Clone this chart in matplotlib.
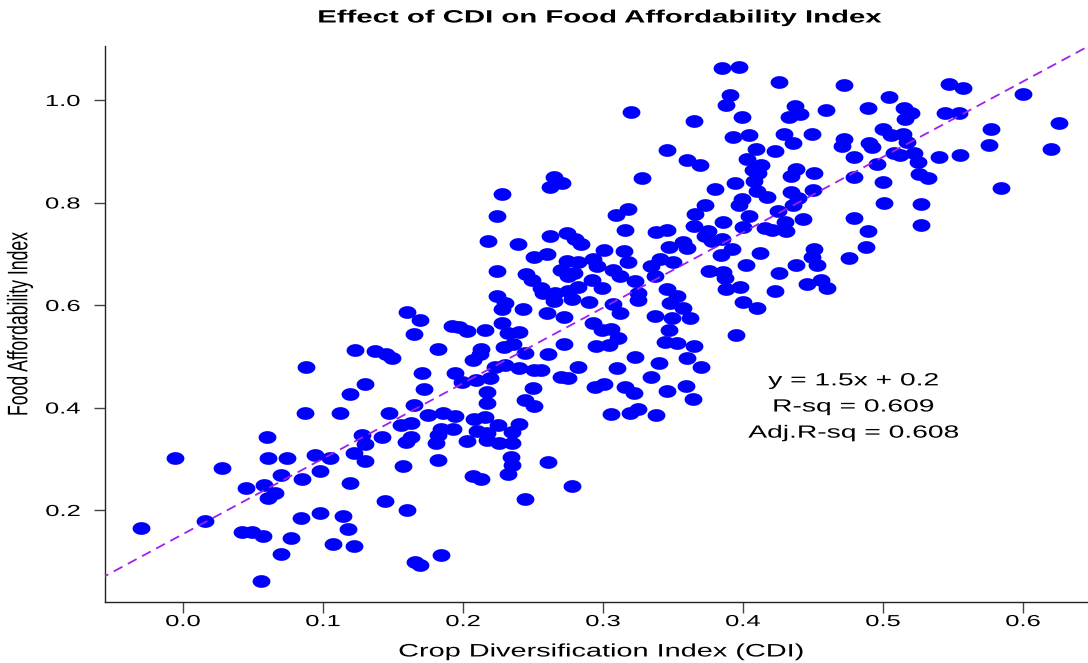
import numpy as np
import matplotlib

matplotlib.use("Agg")
import matplotlib.pyplot as plt
from matplotlib.path import Path
from matplotlib.patheffects import AbstractPathEffect
from matplotlib.ticker import FormatStrFormatter
from matplotlib.transforms import Affine2D

# Crop Diversification Index (x) and Food Affordability Index (y)
cdi = [
    0.265, 0.271, 0.262, 0.228, 0.224, 0.218, 0.239, 0.262, 0.274, 0.280, 0.284, 0.301,
    0.260, 0.251, 0.224, 0.245, 0.249, 0.274, 0.282, 0.270, 0.279, 0.275, 0.293, 0.296,
    0.292, 0.299, 0.256, 0.257, 0.266, 0.275, 0.282, 0.265, 0.278, 0.290, 0.224, 0.230,
    0.228, 0.243, 0.260, 0.272, 0.160, 0.169,
    0.385, 0.397, 0.426, 0.472, 0.391, 0.388, 0.320, 0.365, 0.399, 0.437, 0.441, 0.433,
    0.459, 0.393, 0.404, 0.429, 0.436, 0.449, 0.472, 0.471, 0.346, 0.409, 0.423, 0.360,
    0.369, 0.403, 0.413, 0.407, 0.411, 0.328, 0.394, 0.408, 0.438, 0.434, 0.451, 0.479,
    0.479, 0.380, 0.410, 0.417, 0.399, 0.397, 0.434, 0.439, 0.436, 0.450, 0.373, 0.366,
    0.404, 0.425, 0.386, 0.400, 0.430, 0.443, 0.479, 0.318, 0.309, 0.316, 0.338, 0.346,
    0.365, 0.375, 0.416, 0.421, 0.431, 0.373, 0.378, 0.385, 0.357, 0.360, 0.347, 0.392,
    0.384, 0.412, 0.451, 0.449, 0.476, 0.453, 0.438, 0.402, 0.426, 0.376, 0.386, 0.387,
    0.388, 0.398, 0.423, 0.446, 0.456, 0.460, 0.400, 0.410,
    0.315, 0.318, 0.307, 0.312, 0.323, 0.334, 0.337, 0.341, 0.350, 0.325, 0.325, 0.346,
    0.353, 0.348, 0.357, 0.307, 0.312, 0.337, 0.349, 0.362,
    0.306, 0.311, 0.304, 0.347, 0.344, 0.353, 0.365, 0.395, 0.323, 0.310, 0.340, 0.360,
    0.370, 0.334, 0.301, 0.316, 0.322, 0.346, 0.359, 0.364, 0.306, 0.319, 0.325, 0.338,
    0.547, 0.557, 0.504, 0.600, 0.489, 0.515, 0.520, 0.516, 0.544, 0.554, 0.626, 0.577,
    0.500, 0.506, 0.514, 0.517, 0.490, 0.492, 0.576, 0.620, 0.508, 0.512, 0.522, 0.525,
    0.540, 0.555, 0.496, 0.526, 0.532, 0.500, 0.584, 0.501, 0.527, 0.489, 0.527, 0.488,
    0.123, 0.088, 0.119, 0.087, 0.112, 0.060, -0.006, 0.061, 0.074, 0.094, 0.105, 0.122,
    0.028, 0.070, 0.098, 0.085, 0.045, 0.058, 0.066, 0.061, 0.119, 0.016, -0.030, 0.084,
    0.098, 0.114, 0.118, 0.042, 0.049, 0.057, 0.077, 0.070, 0.107, 0.122, 0.056,
    0.192, 0.197, 0.203, 0.165, 0.216, 0.228, 0.232, 0.240, 0.293, 0.299, 0.137, 0.145,
    0.149, 0.182, 0.213, 0.212, 0.207, 0.229, 0.236, 0.244, 0.261, 0.272, 0.295, 0.171,
    0.194, 0.199, 0.209, 0.219, 0.223, 0.230, 0.240, 0.251, 0.256, 0.282, 0.270, 0.275,
    0.294, 0.130, 0.172, 0.217, 0.217, 0.250, 0.244, 0.251, 0.165, 0.147, 0.175, 0.186,
    0.194, 0.156, 0.163, 0.184, 0.193, 0.208, 0.216, 0.225, 0.240, 0.128, 0.142, 0.159,
    0.163, 0.182, 0.181, 0.203, 0.210, 0.217, 0.217, 0.226, 0.235, 0.235, 0.130, 0.130,
    0.157, 0.182, 0.234, 0.235, 0.232, 0.207, 0.213, 0.261, 0.278, 0.244, 0.144, 0.160,
    0.166, 0.169, 0.184,
]
fai = [
    0.850, 0.839, 0.830, 0.816, 0.774, 0.725, 0.720, 0.735, 0.740, 0.729, 0.719, 0.707,
    0.700, 0.694, 0.666, 0.660, 0.649, 0.686, 0.684, 0.668, 0.663, 0.657, 0.689, 0.676,
    0.649, 0.634, 0.634, 0.624, 0.624, 0.627, 0.636, 0.608, 0.611, 0.605, 0.618, 0.604,
    0.592, 0.592, 0.585, 0.577, 0.587, 0.570,
    1.062, 1.065, 1.036, 1.029, 1.010, 0.990, 0.977, 0.959, 0.966, 0.988, 0.973, 0.967,
    0.980, 0.928, 0.931, 0.934, 0.917, 0.934, 0.923, 0.910, 0.902, 0.905, 0.900, 0.883,
    0.874, 0.884, 0.874, 0.864, 0.857, 0.847, 0.839, 0.842, 0.866, 0.852, 0.857, 0.888,
    0.849, 0.827, 0.822, 0.811, 0.806, 0.795, 0.821, 0.809, 0.795, 0.824, 0.796, 0.777,
    0.774, 0.783, 0.762, 0.752, 0.762, 0.768, 0.770, 0.787, 0.775, 0.746, 0.743, 0.747,
    0.755, 0.745, 0.750, 0.747, 0.744, 0.735, 0.725, 0.729, 0.723, 0.712, 0.714, 0.709,
    0.697, 0.702, 0.709, 0.694, 0.692, 0.678, 0.678, 0.678, 0.663, 0.666, 0.664, 0.653,
    0.631, 0.635, 0.627, 0.641, 0.649, 0.634, 0.605, 0.594,
    0.705, 0.683, 0.668, 0.657, 0.647, 0.676, 0.657, 0.689, 0.684, 0.624, 0.610, 0.631,
    0.617, 0.604, 0.595, 0.601, 0.585, 0.578, 0.575, 0.575,
    0.554, 0.535, 0.522, 0.552, 0.528, 0.525, 0.520, 0.541, 0.499, 0.478, 0.486, 0.497,
    0.479, 0.459, 0.445, 0.440, 0.429, 0.432, 0.442, 0.416, 0.387, 0.389, 0.398, 0.386,
    1.031, 1.023, 1.006, 1.011, 0.985, 0.985, 0.975, 0.962, 0.975, 0.975, 0.955, 0.943,
    0.943, 0.931, 0.933, 0.918, 0.917, 0.909, 0.912, 0.904, 0.897, 0.893, 0.897, 0.880,
    0.889, 0.892, 0.876, 0.855, 0.848, 0.841, 0.828, 0.800, 0.797, 0.744, 0.757, 0.714,
    0.512, 0.479, 0.426, 0.390, 0.390, 0.342, 0.301, 0.302, 0.301, 0.307, 0.302, 0.311,
    0.281, 0.269, 0.277, 0.260, 0.242, 0.249, 0.233, 0.223, 0.252, 0.179, 0.165, 0.184,
    0.194, 0.189, 0.163, 0.157, 0.157, 0.149, 0.146, 0.115, 0.133, 0.129, 0.062,
    0.560, 0.557, 0.550, 0.543, 0.552, 0.564, 0.546, 0.548, 0.564, 0.551, 0.510, 0.505,
    0.497, 0.515, 0.515, 0.505, 0.492, 0.519, 0.524, 0.507, 0.505, 0.524, 0.520, 0.468,
    0.468, 0.450, 0.453, 0.457, 0.480, 0.483, 0.478, 0.473, 0.474, 0.479, 0.459, 0.457,
    0.440, 0.445, 0.436, 0.431, 0.408, 0.438, 0.415, 0.403, 0.405, 0.389, 0.386, 0.389,
    0.383, 0.366, 0.370, 0.359, 0.359, 0.377, 0.382, 0.366, 0.368, 0.346, 0.343, 0.333,
    0.343, 0.346, 0.330, 0.335, 0.355, 0.350, 0.337, 0.331, 0.353, 0.331, 0.329, 0.296,
    0.286, 0.298, 0.304, 0.288, 0.270, 0.266, 0.260, 0.294, 0.247, 0.221, 0.218, 0.200,
    0.099, 0.093, 0.112,
]

# fitted line as drawn on the chart
fit_slope = 1.472
fit_intercept = 0.153
fit_labels = ["y = 1.5x + 0.2", "R-sq = 0.609", "Adj.R-sq = 0.608"]
fit_label_y = [0.452, 0.401, 0.350]
fit_label_x = 0.479

x_ticks = [0.0, 0.1, 0.2, 0.3, 0.4, 0.5, 0.6]
y_ticks = [0.2, 0.4, 0.6, 0.8, 1.0]


class Widen(AbstractPathEffect):
    """Stretch drawn text horizontally about its centre (the source image is widened)."""

    def __init__(self, factor):
        super().__init__()
        self.factor = factor

    def draw_path(self, renderer, gc, tpath, affine, rgbFace=None):
        box = tpath.get_extents(affine)
        cx = 0.5 * (box.x0 + box.x1)
        stretch = Affine2D().translate(-cx, 0).scale(self.factor, 1).translate(cx, 0)
        renderer.draw_path(gc, tpath, affine + stretch, rgbFace)


plt.rcParams["font.family"] = ["Liberation Sans", "DejaVu Sans"]
WIDE = [Widen(1.6)]

theta = np.linspace(0, 2 * np.pi, 48)
ellipse = Path(np.column_stack([1.4 * np.cos(theta), np.sin(theta)]), closed=True)

fig = plt.figure(figsize=(10.88, 6.63), dpi=100)
ax = fig.add_axes([105 / 1088, 61 / 663, 989 / 1088, 556 / 663])

ax.scatter(cdi, fai, s=165, marker=ellipse, color="#0000FF", linewidths=0, zorder=2)
xs = np.array([-0.1, 0.7])
ax.plot(xs, fit_intercept + fit_slope * xs, color="#A020F0", linewidth=1.3,
        dashes=(5.5, 3.4), zorder=3)

ax.set_xlim(-0.0557, 0.6507)
ax.set_ylim(0.0205, 1.1054)

for side in ("top", "right"):
    ax.spines[side].set_visible(False)
for side in ("left", "bottom"):
    ax.spines[side].set_color("#222222")
    ax.spines[side].set_linewidth(1.0)

ax.set_xticks(x_ticks)
ax.set_yticks(y_ticks)
ax.xaxis.set_major_formatter(FormatStrFormatter("%.1f"))
ax.yaxis.set_major_formatter(FormatStrFormatter("%.1f"))
ax.tick_params(direction="out", length=7.9, width=1.0, color="#444444",
               labelcolor="black", labelsize=11.5)
ax.tick_params(axis="x", pad=0.8)
ax.tick_params(axis="y", pad=14.4)
plt.setp(ax.get_xticklabels() + ax.get_yticklabels(), path_effects=WIDE)

for label, yy in zip(fit_labels, fit_label_y):
    ax.text(fit_label_x, yy, label, ha="center", va="center", fontsize=12.7,
            color="black", path_effects=WIDE)

ax.set_title("Effect of CDI on Food Affordability Index", fontsize=12.8,
             fontweight="bold", y=1.0504, va="center", pad=0,
             path_effects=[Widen(1.65)])
ax.set_xlabel("Crop Diversification Index (CDI)", fontsize=13, va="center",
              path_effects=WIDE)
ax.xaxis.set_label_coords(0.5015, -0.0899)
ax.set_ylabel("Food Affordability Index", fontsize=12.7, va="center",
              path_effects=WIDE)
ax.yaxis.set_label_coords(-0.0859, 0.5)

fig.savefig("out.png", dpi=100)
